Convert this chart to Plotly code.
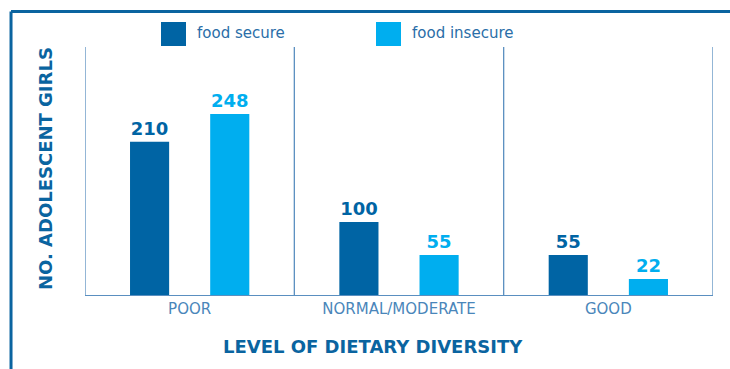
import plotly.graph_objects as go

categories = ["POOR", "NORMAL/MODERATE", "GOOD"]
food_secure = [210, 100, 55]
food_insecure = [248, 55, 22]
series_names = ["food secure", "food insecure"]
y_title = "NO. ADOLESCENT GIRLS"
x_title = "LEVEL OF DIETARY DIVERSITY"

C_SECURE = "#0064A4"
C_INSECURE = "#00AEEF"
C_FRAME = "#0A64A0"
C_GRID = "#5A8FC0"
FONT = "DejaVu Sans"

fig = go.Figure()
for name, vals, col in [(series_names[0], food_secure, C_SECURE),
                        (series_names[1], food_insecure, C_INSECURE)]:
    fig.add_trace(go.Bar(
        x=categories, y=vals, name=name, marker_color=col, marker_line_width=0,
        text=[str(v) for v in vals], textposition="outside", cliponaxis=False,
        textfont=dict(family=FONT, size=18, color=col, weight="bold"),
        showlegend=False,
    ))

shapes = []
# category separators
for i in range(len(categories) + 1):
    shapes.append(dict(type="line", xref="x", yref="paper", x0=i - 0.5, x1=i - 0.5,
                       y0=0, y1=1, line=dict(color=C_GRID, width=1.3)))
# outer frame (top and left)
shapes.append(dict(type="line", xref="paper", yref="paper", x0=-0.1178, x1=1.1,
                   y0=1.143, y1=1.143, line=dict(color=C_FRAME, width=3)))
shapes.append(dict(type="line", xref="paper", yref="paper", x0=-0.1178, x1=-0.1178,
                   y0=1.143, y1=-0.4, line=dict(color=C_FRAME, width=3)))

annotations = []
# manual legend
leg = [(series_names[0], C_SECURE, 161), (series_names[1], C_INSECURE, 376)]
for name, col, px in leg:
    x0 = (px - 85) / 628
    x1 = (px + 25 - 85) / 628
    shapes.append(dict(type="rect", xref="paper", yref="paper", x0=x0, x1=x1,
                       y0=(295 - 46) / 248, y1=(295 - 22) / 248,
                       fillcolor=col, line=dict(width=0)))
    annotations.append(dict(xref="paper", yref="paper", x=(px + 34 - 85) / 628,
                            y=(295 - 33) / 248, text=name, showarrow=False,
                            xanchor="left", yanchor="middle",
                            font=dict(family=FONT, size=15, color="#2A6EA8")))

annotations.append(dict(xref="paper", yref="paper", x=(45 - 85) / 628, y=(295 - 169) / 248,
                        text=y_title, textangle=-90, showarrow=False,
                        xanchor="center", yanchor="middle",
                        font=dict(family=FONT, size=18, color=C_FRAME, weight="bold")))
annotations.append(dict(xref="paper", yref="paper", x=(373 - 85) / 628, y=(295 - 346) / 248,
                        text=x_title, showarrow=False,
                        xanchor="center", yanchor="middle",
                        font=dict(family=FONT, size=18, color=C_FRAME, weight="bold")))

fig.update_layout(
    width=730, height=369,
    margin=dict(l=85, r=17, t=47, b=74),
    paper_bgcolor="white", plot_bgcolor="white",
    barmode="group", bargap=0.234, bargroupgap=0.512,
    shapes=shapes, annotations=annotations,
    xaxis=dict(showgrid=False, showline=True, linecolor=C_GRID, linewidth=1.3,
               ticks="", tickfont=dict(family=FONT, size=15, color="#4A86BA"),
               range=[-0.5, 2.5], fixedrange=True),
    yaxis=dict(range=[0, 340], showgrid=False, showticklabels=False, zeroline=False,
               showline=False, ticks="", fixedrange=True),
)

fig.write_html("out.html")
